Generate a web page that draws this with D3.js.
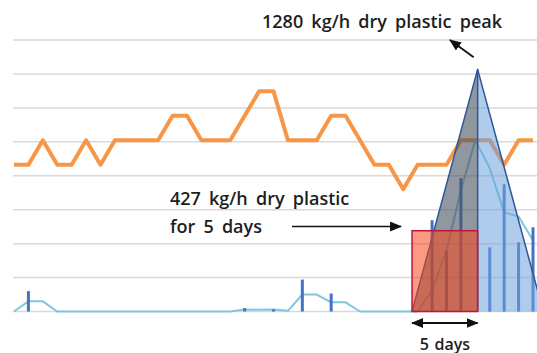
<!DOCTYPE html>
<html>
<head>
<meta charset="utf-8">
<script src="https://cdn.jsdelivr.net/npm/d3@7"></script>
<style>
  html, body { margin: 0; padding: 0; background: #fff; }
  svg { display: block; }
  text { font-family: "Open Sans", Lato, "Noto Sans", sans-serif; fill: #1e1e1e; }
</style>
</head>
<body>
<svg id="chart" width="537" height="353"></svg>
<script>
// One reading per sample step
const samples = d3.range(37);
// River stage class (secondary, hidden axis)
const riverStage = [6,6,7,6,6,7,6,7,7,7,7,8,8,7,7,7,8,9,9,7,7,7,8,8,7,6,6,5,6,6,6,7,7,7,6,7,7];
// Rainfall per sample (bars, primary hidden axis)
const rainfall = [0,6,0,0,0,0,0,0,0,0,0,0,0,0,0,0,1,0,0.6,0,9.4,0,5.3,0,0,0,0,0,0,26.9,18,39.3,0,18.9,37.5,20.4,24.8];
// Discharge per sample (thin line, primary hidden axis)
const discharge = [0,3,3,0,0,0,0,0,0,0,0,0,0,0,0,0,0.6,0.5,0.6,0.2,5,5,2.7,2.7,0,0,0,0,0,6.2,18,35.7,50.5,42.2,29.2,28,21];
// Gridline values of the primary axis
const gridValues = [0,10,20,30,40,50,60,70,80];

// Plastic transport event (kg/h dry plastic)
const peakRate = 1280;
const steadyRate = 427;
const steadyDays = 5;
const pulseStart = 27.61;   // sample position where the pulse begins
const pulsePeak = 32.16;    // sample position of the peak
const pulseEnd = pulsePeak + (pulsePeak - pulseStart);

const svg = d3.select("#chart");

const x = d3.scaleLinear().domain([0, 36]).range([14, 533]);
const y = d3.scaleLinear().domain([0, 80]).range([311.5, 40]);
const yStage = d3.scaleLinear().domain([0, 11.1]).range([311.5, 40]);
const yPlastic = d3.scaleLinear().domain([0, 1435]).range([311.5, 40]);

// gridlines
svg.append("g").selectAll("line").data(gridValues).join("line")
  .attr("x1", 13).attr("x2", 537)
  .attr("y1", d => y(d)).attr("y2", d => y(d))
  .attr("stroke", "#d9d9d9").attr("stroke-width", 1.5);

// river stage line
svg.append("path").datum(samples)
  .attr("d", d3.line().x(i => x(i)).y(i => yStage(riverStage[i])))
  .attr("fill", "none").attr("stroke", "#f79646").attr("stroke-width", 4)
  .attr("stroke-linejoin", "round");

// discharge line
svg.append("path").datum(samples)
  .attr("d", d3.line().x(i => x(i)).y(i => y(discharge[i])))
  .attr("fill", "none").attr("stroke", "#7ec6de").attr("stroke-width", 2)
  .attr("stroke-linejoin", "round");

// rainfall bars
svg.append("g").selectAll("rect").data(samples.filter(i => rainfall[i] > 0)).join("rect")
  .attr("x", i => x(i) - 1.5).attr("width", 3)
  .attr("y", i => y(rainfall[i])).attr("height", i => y(0) - y(rainfall[i]))
  .attr("fill", "#4472c4");

// plastic pulse: rising half and falling half
const baseY = yPlastic(0), peakY = yPlastic(peakRate);
svg.append("path")
  .attr("d", d3.line()([[x(pulseStart), baseY], [x(pulsePeak), peakY], [x(pulsePeak), baseY]]) + "Z")
  .attr("fill", "#47525e").attr("fill-opacity", 0.6);
svg.append("path")
  .attr("d", d3.line()([[x(pulsePeak), baseY], [x(pulsePeak), peakY], [x(pulseEnd), baseY]]) + "Z")
  .attr("fill", "#70a3de").attr("fill-opacity", 0.55);
svg.append("path")
  .attr("d", d3.line()([[x(pulseStart), baseY], [x(pulsePeak), peakY], [x(pulseEnd), baseY]]))
  .attr("fill", "none").attr("stroke", "#2f5597").attr("stroke-width", 1.5)
  .attr("stroke-linejoin", "round");
svg.append("line")
  .attr("x1", x(pulsePeak)).attr("x2", x(pulsePeak)).attr("y1", peakY).attr("y2", baseY)
  .attr("stroke", "#2f5597").attr("stroke-width", 1.5);

// equivalent steady transport block
const rx0 = x(pulseStart), rx1 = x(pulsePeak);
svg.append("rect")
  .attr("x", rx0).attr("width", rx1 - rx0)
  .attr("y", yPlastic(steadyRate)).attr("height", baseY - yPlastic(steadyRate))
  .attr("fill", "rgb(248,70,30)").attr("fill-opacity", 0.55)
  .attr("stroke", "#c0143c").attr("stroke-width", 1.5);

// arrowheads
const defs = svg.append("defs");
defs.append("marker").attr("id", "head")
  .attr("viewBox", "0 0 12 10").attr("refX", 11).attr("refY", 5)
  .attr("markerWidth", 12).attr("markerHeight", 10)
  .attr("markerUnits", "userSpaceOnUse").attr("orient", "auto-start-reverse")
  .append("path").attr("d", "M0,0L12,5L0,10Z").attr("fill", "#111");

// arrow to the block
svg.append("line")
  .attr("x1", 292).attr("x2", rx0 - 11)
  .attr("y1", 226.5).attr("y2", 226.5)
  .attr("stroke", "#111").attr("stroke-width", 1.6)
  .attr("marker-end", "url(#head)");

// arrow from the peak to its label
svg.append("line")
  .attr("x1", x(pulsePeak) - 4).attr("y1", peakY - 12)
  .attr("x2", 450).attr("y2", 40)
  .attr("stroke", "#111").attr("stroke-width", 1.8)
  .attr("marker-end", "url(#head)");

// duration arrow
svg.append("line")
  .attr("x1", rx0).attr("x2", rx1)
  .attr("y1", 323).attr("y2", 323)
  .attr("stroke", "#111").attr("stroke-width", 1.8)
  .attr("marker-start", "url(#head)").attr("marker-end", "url(#head)");

// labels
const label = (xp, yp, str, size, ws) => svg.append("text")
  .attr("x", xp).attr("y", yp)
  .attr("font-size", size).attr("font-weight", 600)
  .attr("word-spacing", ws)
  .text(str);
label(262, 28, `${peakRate} kg/h dry plastic peak`, 18, 3.5);
label(170, 205, `${steadyRate} kg/h dry plastic`, 18, 3.5);
label(170, 233, `for ${steadyDays} days`, 18, 3.5);
label((rx0 + rx1) / 2, 349.5, `${steadyDays} days`, 16, 1.5).attr("text-anchor", "middle");
</script>
</body>
</html>
